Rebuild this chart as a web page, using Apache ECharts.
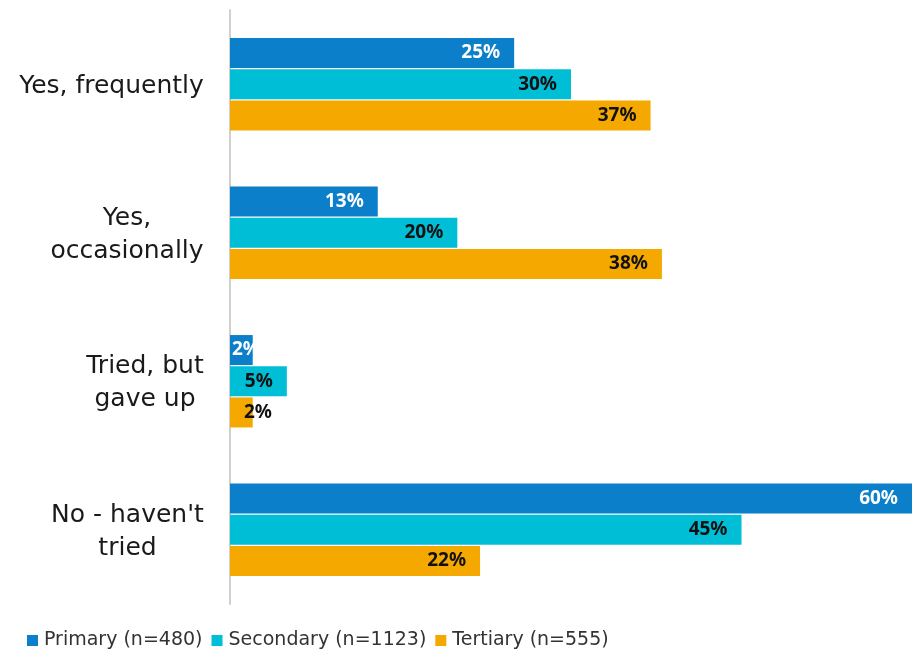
<!DOCTYPE html>
<html>
<head>
<meta charset="utf-8">
<script src="https://cdn.jsdelivr.net/npm/echarts@6/dist/echarts.min.js"></script>
<style>
  html, body { margin: 0; padding: 0; background: #fff; }
  #chart { width: 912px; height: 649px; }
</style>
</head>
<body>
<div id="chart"></div>
<script>
// Response options, top to bottom
const categories = ['Yes, frequently', 'Yes,\noccasionally', 'Tried, but\ngave up', "No - haven't\ntried"];

// Share of respondents (%) by school level
const seriesNames = ['Primary (n=480)', 'Secondary (n=1123)', 'Tertiary (n=555)'];
const primary = [25, 13, 2, 60];
const secondary = [30, 20, 5, 45];
const tertiary = [37, 38, 2, 22];

const colors = ['#0C7FCA', '#00BED6', '#F5A800'];
const labelColors = ['#ffffff', '#111111', '#111111'];
const FONT = "'DejaVu Sans', sans-serif";
const LABEL_FONT = "'Noto Sans', sans-serif";
const CAT_SIZE = 25;

// Category labels: lines centred on each other, block right-aligned at the axis
const measureCtx = document.createElement('canvas').getContext('2d');
measureCtx.font = CAT_SIZE + 'px ' + FONT;
const catRich = {};
categories.forEach((c, i) => {
  const w = Math.max(...c.split('\n').map(l => measureCtx.measureText(l).width));
  catRich['c' + i] = { width: Math.ceil(w), align: 'center', fontFamily: FONT, fontSize: CAT_SIZE, lineHeight: 33, color: '#1a1a1a' };
});

function makeSeries(name, values, idx) {
  return {
    name: name,
    type: 'bar',
    barWidth: 30,
    barGap: '4%',
    itemStyle: { color: colors[idx] },
    data: values.map(v => {
      const item = { value: v };
      // very short bars: keep the label anchored near the bar start
      if (v < 4) {
        item.label = { position: [idx === 0 ? 2 : 14, '50%'], align: 'left', verticalAlign: 'middle' };
      }
      return item;
    }),
    label: {
      show: true,
      position: 'insideRight',
      distance: 14,
      formatter: '{c}%',
      color: labelColors[idx],
      fontFamily: LABEL_FONT,
      fontWeight: 'bold',
      fontSize: 19,
      padding: [4, 0, 0, 0]
    }
  };
}

const chart = echarts.init(document.getElementById('chart'), null, { renderer: 'canvas' });
chart.setOption({
  animation: false,
  color: colors,
  grid: { left: 230, right: 0, top: 10, bottom: 45, containLabel: false },
  legend: {
    left: 22,
    top: 626,
    itemWidth: 11,
    itemHeight: 11,
    itemGap: 9,
    icon: 'rect',
    textStyle: { fontFamily: FONT, fontSize: 19, color: '#333333', padding: [0, 0, 0, 1] },
    data: seriesNames
  },
  xAxis: {
    type: 'value',
    min: 0,
    max: 60,
    show: false
  },
  yAxis: {
    type: 'category',
    inverse: true,
    data: categories,
    axisLine: { show: true, lineStyle: { color: '#D0D0D0', width: 2 } },
    axisTick: { show: false },
    axisLabel: {
      margin: 26,
      align: 'right',
      padding: [4, 0, 0, 0],
      formatter: (val, i) => val.split('\n').map(l => '{c' + i + '|' + l + '}').join('\n'),
      rich: catRich
    }
  },
  series: [
    makeSeries(seriesNames[0], primary, 0),
    makeSeries(seriesNames[1], secondary, 1),
    makeSeries(seriesNames[2], tertiary, 2)
  ]
});
</script>
</body>
</html>
